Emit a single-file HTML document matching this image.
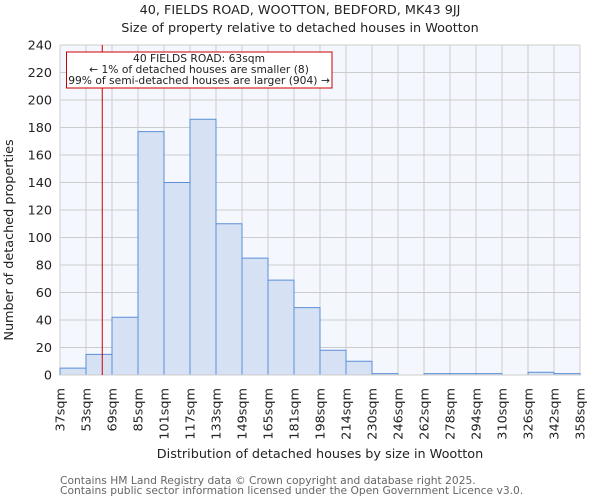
<!DOCTYPE html>
<html><head><meta charset="utf-8"><style>
body{margin:0;background:#fff;font-family:"DejaVu Sans","Liberation Sans",sans-serif}
</style></head><body>
<svg width="600" height="500" viewBox="0 0 600 500" xmlns="http://www.w3.org/2000/svg" font-family="DejaVu Sans, Liberation Sans, sans-serif">
<text x="300" y="14" text-anchor="middle" font-size="12.8" fill="#222">40, FIELDS ROAD, WOOTTON, BEDFORD, MK43 9JJ</text>
<text x="300" y="32" text-anchor="middle" font-size="12.8" fill="#222">Size of property relative to detached houses in Wootton</text>
<rect x="60" y="45" width="520" height="330" fill="#f4f7fd"/>
<g id="grid"></g>
<g id="bars"></g>
<g id="ticks"></g>
<line x1="60" y1="375" x2="580" y2="375" stroke="#ccc" stroke-width="1"/>
<line id="marker" y1="45" y2="375" stroke="#cc0000" stroke-width="1"/>
<rect x="66.5" y="52" width="265.5" height="36" fill="#fff" stroke="#cc0000" stroke-width="1"/>
<text text-anchor="middle" font-size="10.7" fill="#222"><tspan x="199" y="62">40 FIELDS ROAD: 63sqm</tspan><tspan x="199" y="73">← 1% of detached houses are smaller (8)</tspan><tspan x="199" y="84">99% of semi-detached houses are larger (904) →</tspan></text>
<text transform="translate(13,240) rotate(-90)" text-anchor="middle" font-size="12.8" fill="#222">Number of detached properties</text>
<text x="320" y="458" text-anchor="middle" font-size="12.8" fill="#222">Distribution of detached houses by size in Wootton</text>
<text x="60" y="484" font-size="10.7" fill="#666">Contains HM Land Registry data © Crown copyright and database right 2025.</text>
<text x="60" y="494" font-size="10.7" fill="#666">Contains public sector information licensed under the Open Government Licence v3.0.</text>
</svg>
<script>
const binEdges=[37,53,69,85,101,117,133,149,165,181,198,214,230,246,262,278,294,310,326,342,358];
const counts=[5,15,42,177,140,186,110,85,69,49,18,10,1,0,1,1,1,0,2,1];
const yTicks=[0,20,40,60,80,100,120,140,160,180,200,220,240];
const propertySize=63;
const NS="http://www.w3.org/2000/svg";
const X0=60,X1=580,Y0=375,Y1=45,YMAX=240;
const nb=counts.length, bw=(X1-X0)/nb;
function xIdx(i){return X0+i*bw;}
function xVal(v){for(let i=0;i<nb;i++){if(v<=binEdges[i+1]){return xIdx(i)+bw*(v-binEdges[i])/(binEdges[i+1]-binEdges[i]);}}return X1;}
function y(v){return Y0-(v/YMAX)*(Y0-Y1);}
function mk(t,a){const e=document.createElementNS(NS,t);for(const k in a)e.setAttribute(k,a[k]);return e;}
const grid=document.getElementById('grid'),bars=document.getElementById('bars'),ticks=document.getElementById('ticks');
yTicks.forEach(v=>{
 const l=mk('line',{x1:X0,x2:X1,y1:y(v),y2:y(v),stroke:'#ccc','stroke-width':1});
 
 
 grid.appendChild(l);
 const t=mk('text',{x:X0-8,y:y(v)+4.5,'text-anchor':'end','font-size':12.8,fill:'#222'});
 t.textContent=v;
 
 
 ticks.appendChild(t);
});
binEdges.forEach((e,i)=>{
 const x=xIdx(i);
 const l=mk('line',{x1:x,x2:x,y1:Y1,y2:Y0,stroke:'#ccc','stroke-width':1});
 
 
 grid.appendChild(l);
 const t=mk('text',{transform:`translate(${x+4.5},388) rotate(-90)`,'text-anchor':'end','font-size':12.8,fill:'#222'});
 t.textContent=e+'sqm';
 
 
 ticks.appendChild(t);
});
counts.forEach((c,i)=>{
 const r=mk('rect',{x:xIdx(i),y:y(c),width:bw,height:Y0-y(c),fill:'#d6e1f4',stroke:'#5b8fd6','stroke-width':1});
 
 
 bars.appendChild(r);
});
const m=document.getElementById('marker');const mx=xVal(propertySize);m.setAttribute('x1',mx);m.setAttribute('x2',mx);
</script>
</body></html>
